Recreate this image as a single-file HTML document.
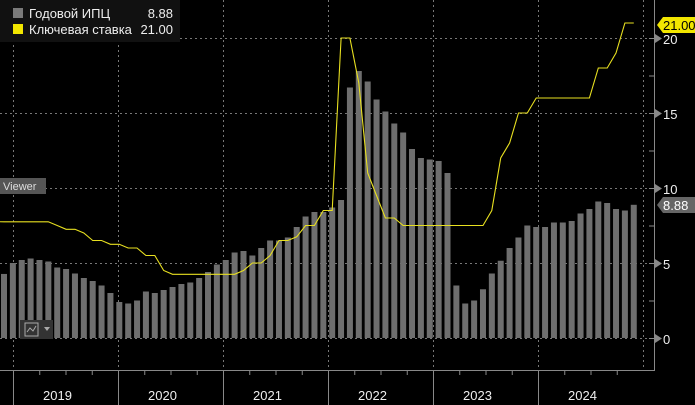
<!DOCTYPE html>
<html><head><meta charset="utf-8"><style>
body{margin:0;background:#000;width:695px;height:405px;overflow:hidden;font-family:"Liberation Sans","Noto Sans CJK SC",sans-serif}
</style></head><body>
<svg width="695" height="405" xmlns="http://www.w3.org/2000/svg" style="position:absolute;left:0;top:0">
<g id="grid" stroke="#777" stroke-width="1" stroke-dasharray="2,3">
<line x1="0" x2="654" y1="338.5" y2="338.5"/><line x1="0" x2="654" y1="263.5" y2="263.5"/>
<line x1="0" x2="654" y1="188.5" y2="188.5"/><line x1="0" x2="654" y1="113.5" y2="113.5"/>
<line x1="0" x2="654" y1="38.5" y2="38.5"/>
<line x1="13.5" x2="13.5" y1="0" y2="370"/><line x1="118.5" x2="118.5" y1="0" y2="370"/>
<line x1="223.5" x2="223.5" y1="0" y2="370"/><line x1="328.5" x2="328.5" y1="0" y2="370"/>
<line x1="433.5" x2="433.5" y1="0" y2="370"/><line x1="538.5" x2="538.5" y1="0" y2="370"/>
<line x1="643.5" x2="643.5" y1="0" y2="370"/>
</g>
<g id="bars" fill="#6e6e6e"></g>
<polyline id="rate" fill="none" stroke="#e8e020" stroke-width="1.1"/>
<g stroke="#888" stroke-width="1">
<line x1="654.5" y1="0" x2="654.5" y2="370"/><line x1="0" y1="370.5" x2="655" y2="370.5"/>
</g>
<g id="ticks" stroke="#888"></g>
<g fill="#888"><polygon points="655,34 662,38.5 655,43"/><polygon points="655,109 662,113.5 655,118"/><polygon points="655,184 662,188.5 655,193"/><polygon points="655,259 662,263.5 655,268"/><polygon points="655,334 662,338.5 655,343"/></g>
<g fill="#eee" font-size="13">
<text x="663" y="44">20</text><text x="663" y="119">15</text><text x="663" y="194">10</text><text x="663" y="269">5</text><text x="663" y="344">0</text>
<text x="43" y="400">2019</text><text x="148" y="400">2020</text><text x="253" y="400">2021</text><text x="358" y="400">2022</text><text x="463" y="400">2023</text><text x="568" y="400">2024</text>
</g>
<polygon points="657,25 663,17 695,17 695,33 663,33" fill="#f2e600"/>
<text x="663" y="30" font-size="13" fill="#000">21.00</text>
<polygon points="657,205 663,197 695,197 695,213 663,213" fill="#666"/>
<text x="663" y="210" font-size="13" fill="#fff">8.88</text>
<rect x="0" y="0" width="180" height="42" fill="#111"/>
<rect x="13" y="8" width="10" height="10" fill="#7a7a7a"/>
<rect x="13" y="24" width="10" height="10" fill="#f2e600"/>
<g fill="#eee" font-size="13"><text x="29" y="18">Годовой ИПЦ</text><text x="173" y="18" text-anchor="end">8.88</text>
<text x="29" y="34">Ключевая ставка</text><text x="173" y="34" text-anchor="end">21.00</text></g>
<rect x="0" y="178" width="46" height="16" fill="#555"/>
<text x="3" y="190" font-size="11" fill="#ddd">Viewer</text>
<rect x="20" y="320" width="33" height="19" fill="#333"/>
<rect x="25" y="323" width="13" height="13" fill="none" stroke="#aaa"/>
<polyline points="27,332 30,328 33,331 36,326" fill="none" stroke="#aaa"/>
<polygon points="44,327 50,327 47,331" fill="#aaa"/>
</svg>
<script>
var cpi=[4.27,5.0,5.2,5.3,5.2,5.1,4.7,4.6,4.3,4.0,3.8,3.5,3.0,2.4,2.3,2.5,3.1,3.0,3.2,3.4,3.6,3.7,4.0,4.4,4.9,5.2,5.7,5.8,5.5,6.0,6.5,6.5,6.7,7.4,8.1,8.4,8.4,8.7,9.2,16.7,17.8,17.1,15.9,15.1,14.3,13.7,12.6,12.0,11.9,11.8,11.0,3.5,2.3,2.5,3.25,4.3,5.15,6.0,6.7,7.5,7.4,7.4,7.7,7.7,7.8,8.3,8.6,9.1,9.0,8.6,8.5,8.88];
var rate=[7.75,7.75,7.75,7.75,7.75,7.75,7.5,7.25,7.25,7.0,6.5,6.5,6.25,6.25,6.0,6.0,5.5,5.5,4.5,4.25,4.25,4.25,4.25,4.25,4.25,4.25,4.25,4.5,5.0,5.0,5.5,6.5,6.5,6.75,7.5,7.5,8.5,8.5,20,20,17,11,9.5,8,8,7.5,7.5,7.5,7.5,7.5,7.5,7.5,7.5,7.5,7.5,8.5,12,13,15,15,16,16,16,16,16,16,16,18,18,19,21,21];
var ns="http://www.w3.org/2000/svg",b=document.getElementById('bars'),pts=[];
for(var i=0;i<cpi.length;i++){var x=4+i*8.87,h=cpi[i]*15;var r=document.createElementNS(ns,'rect');r.setAttribute('x',x-3);r.setAttribute('y',338-h);r.setAttribute('width',6);r.setAttribute('height',h);b.appendChild(r);pts.push(x.toFixed(1)+','+(338-rate[i]*15).toFixed(1));}
pts.unshift('0,'+(338-7.75*15));
document.getElementById('rate').setAttribute('points',pts.join(' '));
var t=document.getElementById('ticks');
for(var y=0;y<=21;y+=2.5){var l=document.createElementNS(ns,'line');var yy=338.5-y*15;l.setAttribute('x1',649);l.setAttribute('x2',654);l.setAttribute('y1',yy);l.setAttribute('y2',yy);t.appendChild(l);}
for(var k=0;k<24;k++){var x=13.5+k*26.25;var l=document.createElementNS(ns,'line');l.setAttribute('x1',x);l.setAttribute('x2',x);l.setAttribute('y1',370);l.setAttribute('y2',k%4==0?405:375);t.appendChild(l);}
</script>
</body></html>
